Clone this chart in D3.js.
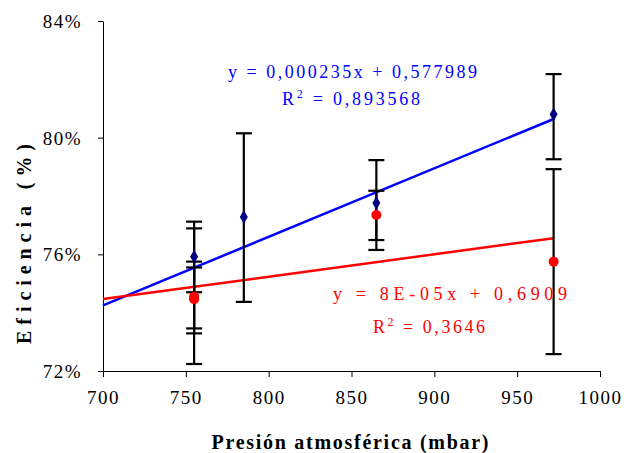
<!DOCTYPE html>
<html>
<head>
<meta charset="utf-8">
<script src="https://cdn.jsdelivr.net/npm/d3@7/dist/d3.min.js"></script>
<style>
  body { margin: 0; background: #fff; }
</style>
</head>
<body>
<svg width="624" height="453"></svg>
<script>
// blue series (diamonds) - pressure (mbar), efficiency (%), error bar ends
var blueX  = [755, 785, 865, 972];
var blueY  = [75.92, 77.28, 77.76, 80.80];
var blueLo = [74.70, 74.37, 76.15, 79.26];
var blueHi = [77.12, 80.15, 79.23, 82.18];

// red series (circles)
var redX  = [755, 755, 755, 865, 972];
var redY  = [74.55, 74.50, 74.46, 77.35, 75.75];
var redLo = [72.24, 73.29, 73.46, 76.49, 72.58];
var redHi = [76.89, 75.75, 75.55, 78.18, 78.92];

// trend lines: slope, intercept (fraction), x range
var blueTrend = [0.000235, 0.577989];
var redTrend  = [0.0000768, 0.6909];
var trendRange = [700, 972];

var xTicks = [700, 750, 800, 850, 900, 950, 1000];
var yTicks = [72, 76, 80, 84];

var blueEq = ["y = 0,000235x  + 0,577989", "0,893568"];
var redEq  = ["y = 8E-05x  + 0,6909", "0,3646"];

var serif = "'Liberation Serif', 'Times New Roman', serif";

var svg = d3.select("svg");

var x = d3.scaleLinear().domain([700, 1000]).range([103, 600]);
var y = d3.scaleLinear().domain([72, 84]).range([371, 21]);

// axes
var xAxis = svg.append("g")
    .attr("transform", "translate(0," + y(72) + ")")
    .call(d3.axisBottom(x).tickValues(xTicks).tickSize(6).tickSizeOuter(0).tickPadding(14)
      .tickFormat(d3.format("d")));
var yAxis = svg.append("g")
    .attr("transform", "translate(" + x(700) + ",0)")
    .call(d3.axisLeft(y).tickValues(yTicks).tickSize(5).tickSizeOuter(0).tickPadding(16)
      .tickFormat(d => d + "%"));

[xAxis, yAxis].forEach(a => {
  a.attr("font-family", serif);
  a.select(".domain").attr("stroke", "#000").attr("stroke-width", 1);
  a.selectAll(".tick line").attr("stroke", "#000");
  a.selectAll(".tick text")
      .attr("font-size", 19)
      .attr("letter-spacing", 1.5)
      .attr("fill", "#000");
});
yAxis.selectAll(".tick text").attr("dy", "0.35em");

// trend lines
function trendLine(t, color) {
  svg.append("line")
      .attr("x1", x(trendRange[0])).attr("y1", y((t[0] * trendRange[0] + t[1]) * 100))
      .attr("x2", x(trendRange[1])).attr("y2", y((t[0] * trendRange[1] + t[1]) * 100))
      .attr("stroke", color)
      .attr("stroke-width", 2.5);
}
trendLine(blueTrend, "#0000ff");
trendLine(redTrend, "#ff0000");

// error bars
function errorBars(xs, lo, hi) {
  var g = svg.append("g").attr("stroke", "#000").attr("stroke-width", 2.2);
  xs.forEach((v, i) => {
    g.append("line").attr("x1", x(v)).attr("x2", x(v)).attr("y1", y(lo[i])).attr("y2", y(hi[i]));
    [lo[i], hi[i]].forEach(e => {
      g.append("line").attr("x1", x(v) - 8).attr("x2", x(v) + 8).attr("y1", y(e)).attr("y2", y(e));
    });
  });
}
errorBars(blueX, blueLo, blueHi);
errorBars(redX, redLo, redHi);

// markers
svg.append("g").selectAll("path")
  .data(blueX.map((v, i) => [v, blueY[i]]))
  .join("path")
    .attr("transform", d => "translate(" + x(d[0]) + "," + y(d[1]) + ")")
    .attr("d", d3.symbol().type(d3.symbolDiamond).size(55))
    .attr("fill", "#000080");

svg.append("g").selectAll("circle")
  .data(redX.map((v, i) => [v, redY[i]]))
  .join("circle")
    .attr("cx", d => x(d[0]))
    .attr("cy", d => y(d[1]))
    .attr("r", 5)
    .attr("fill", "#ff0000");

// equations
function equation(eq, color, x1, y1, w1, x2, y2, w2) {
  svg.append("text")
      .attr("x", x1).attr("y", y1)
      .attr("font-family", serif)
      .attr("font-size", 18).attr("fill", color)
      .attr("textLength", w1).attr("lengthAdjust", "spacing")
      .text(eq[0]);
  var t = svg.append("text")
      .attr("x", x2).attr("y", y2)
      .attr("font-family", serif)
      .attr("font-size", 18).attr("fill", color)
      .attr("textLength", w2).attr("lengthAdjust", "spacing");
  t.append("tspan").text("R");
  t.append("tspan").attr("font-size", 12).attr("dy", -7).text("2");
  t.append("tspan").attr("dy", 7).text(" = " + eq[1]);
}
equation(blueEq, "#0000ff", 228, 78, 249, 282, 105, 138);
equation(redEq, "#ff0000", 333, 300, 234, 373, 333, 112);

// axis titles
svg.append("text")
    .attr("x", 350).attr("y", 449)
    .attr("text-anchor", "middle")
    .attr("font-family", serif)
    .attr("font-size", 20).attr("font-weight", "bold")
    .attr("textLength", 277).attr("lengthAdjust", "spacing")
    .text("Presión atmosférica (mbar)");

svg.append("text")
    .attr("transform", "translate(31,244) rotate(-90)")
    .attr("text-anchor", "middle")
    .attr("font-family", serif)
    .attr("font-size", 20).attr("font-weight", "bold")
    .attr("textLength", 200).attr("lengthAdjust", "spacing")
    .text("Eficiencia (%)");
</script>
</body>
</html>
